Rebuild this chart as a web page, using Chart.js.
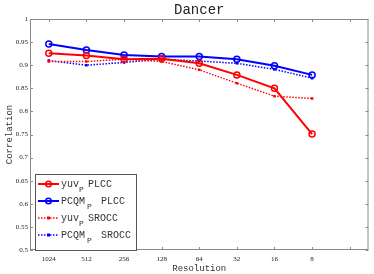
<!DOCTYPE html>
<html>
<head>
<meta charset="utf-8">
<script src="https://cdn.jsdelivr.net/npm/chart.js@4/dist/chart.umd.min.js"></script>
<style>
  html, body { margin: 0; padding: 0; background: #fff; }
  #wrap { width: 374px; height: 274px; }
</style>
</head>
<body>
<div id="wrap"><canvas id="c" width="374" height="274"></canvas></div>
<script>
const resolutions = ['1024', '512', '256', '128', '64', '32', '16', '8', ''];
const yuvPlcc   = [0.926, 0.921, 0.913, 0.914, 0.904, 0.879, 0.850, 0.751];
const pcqmPlcc  = [0.946, 0.933, 0.922, 0.919, 0.919, 0.913, 0.899, 0.879];
const yuvSrocc  = [0.908, 0.908, 0.913, 0.908, 0.890, 0.861, 0.833, 0.828];
const pcqmSrocc = [0.910, 0.900, 0.906, 0.913, 0.909, 0.904, 0.891, 0.872];
const yTicks = [0.5, 0.55, 0.6, 0.65, 0.7, 0.75, 0.8, 0.85, 0.9, 0.95, 1];

const serif = 'Liberation Serif';
const mono = 'Liberation Mono';

// matlab style: box round the axes, ticks pointing inward, title and legend drawn by hand
const matlabBox = {
    id: 'matlabBox',
    afterDraw(chart) {
        const { ctx, chartArea: a, scales } = chart;
        ctx.save();
        ctx.strokeStyle = '#8a8a8a';
        ctx.lineWidth = 1;
        ctx.strokeRect(a.left + 0.5, a.top + 0.5, a.right - a.left - 1, a.bottom - a.top - 1);
        ctx.beginPath();
        scales.x.ticks.forEach((t, i) => {
            const x = Math.round(scales.x.getPixelForTick(i)) + 0.5;
            ctx.moveTo(x, a.bottom); ctx.lineTo(x, a.bottom - 3);
            ctx.moveTo(x, a.top); ctx.lineTo(x, a.top + 3);
        });
        scales.y.ticks.forEach((t, i) => {
            const y = Math.round(scales.y.getPixelForTick(i)) + 0.5;
            ctx.moveTo(a.left, y); ctx.lineTo(a.left + 3, y);
            ctx.moveTo(a.right, y); ctx.lineTo(a.right - 3, y);
        });
        ctx.stroke();

        // title
        ctx.fillStyle = '#222';
        ctx.font = '14px ' + mono;
        ctx.textAlign = 'center';
        ctx.textBaseline = 'alphabetic';
        ctx.fillText('Dancer', (a.left + a.right) / 2, 14);

        // legend
        const lx = 35, ly = 174, lw = 101, lh = 76;
        ctx.fillStyle = '#fff';
        ctx.fillRect(lx, ly, lw, lh);
        ctx.strokeStyle = '#555';
        ctx.strokeRect(lx + 0.5, ly + 0.5, lw, lh);
        const rows = [
            { ds: 0, name: 'yuv', sub: 79, rest: 88, label: 'PLCC', y: 184 },
            { ds: 1, name: 'PCQM', sub: 87, rest: 101, label: 'PLCC', y: 201 },
            { ds: 2, name: 'yuv', sub: 79, rest: 88, label: 'SROCC', y: 218 },
            { ds: 3, name: 'PCQM', sub: 87, rest: 101, label: 'SROCC', y: 235 }
        ];
        rows.forEach(r => {
            const ds = chart.data.datasets[r.ds];
            ctx.strokeStyle = ds.borderColor;
            ctx.lineWidth = ds.borderWidth;
            ctx.setLineDash(ds.borderDash || []);
            ctx.beginPath();
            ctx.moveTo(38, r.y); ctx.lineTo(59, r.y);
            ctx.stroke();
            ctx.setLineDash([]);
            ctx.beginPath();
            if (ds.pointStyle === 'circle') {
                ctx.lineWidth = 1.5;
                ctx.arc(48.5, r.y, 2.8, 0, Math.PI * 2);
                ctx.stroke();
            } else {
                ctx.fillStyle = ds.borderColor;
                ctx.fillRect(47, r.y - 1.5, 3, 3);
            }
            ctx.fillStyle = '#333';
            ctx.textAlign = 'left';
            ctx.textBaseline = 'middle';
            ctx.font = '10px ' + mono;
            ctx.fillText(r.name, 61, r.y);
            ctx.fillText(r.label, r.rest, r.y);
            ctx.font = '8px ' + mono;
            ctx.fillText('P', r.sub, r.y + 6);
        });
        ctx.restore();
    }
};

new Chart(document.getElementById('c'), {
    type: 'line',
    data: {
        labels: resolutions,
        datasets: [
            { label: 'yuvP PLCC', data: yuvPlcc, borderColor: '#ff0000', backgroundColor: '#ff0000',
              borderWidth: 2, pointStyle: 'circle', pointRadius: 3, pointBorderWidth: 1.5,
              pointBackgroundColor: 'rgba(0,0,0,0)' },
            { label: 'PCQMP PLCC', data: pcqmPlcc, borderColor: '#0000ff', backgroundColor: '#0000ff',
              borderWidth: 2, pointStyle: 'circle', pointRadius: 3, pointBorderWidth: 1.5,
              pointBackgroundColor: 'rgba(0,0,0,0)' },
            { label: 'yuvP SROCC', data: yuvSrocc, borderColor: '#ff0000', backgroundColor: '#ff0000',
              borderWidth: 1.5, borderDash: [1.5, 1.5], pointStyle: 'rect', pointRadius: 1.8,
              pointBorderWidth: 0 },
            { label: 'PCQMP SROCC', data: pcqmSrocc, borderColor: '#0000ff', backgroundColor: '#0000ff',
              borderWidth: 1.5, borderDash: [1.5, 1.5], pointStyle: 'rect', pointRadius: 1.8,
              pointBorderWidth: 0 }
        ]
    },
    options: {
        responsive: false,
        animation: false,
        events: [],
        layout: { padding: { top: 19, right: 2, left: 0, bottom: 0 } },
        plugins: { legend: { display: false }, tooltip: { enabled: false } },
        elements: { line: { tension: 0 } },
        scales: {
            x: {
                offset: true,
                grid: { display: false, drawTicks: false, tickLength: 0 },
                border: { display: false },
                ticks: { color: '#222', font: { family: serif, size: 7 }, maxRotation: 0, padding: 5 },
                title: { display: true, text: 'Resolution', color: '#333',
                         font: { family: mono, size: 9 }, padding: { top: 1, bottom: 0 } },
                afterFit(s) { s.height = 24; }
            },
            y: {
                min: 0.5, max: 1,
                grid: { display: false, drawTicks: false, tickLength: 0 },
                border: { display: false },
                afterBuildTicks(s) { s.ticks = yTicks.map(v => ({ value: v })); },
                ticks: { color: '#222', font: { family: serif, size: 7 }, padding: 2,
                         callback: v => String(+v.toFixed(2)) },
                title: { display: true, text: 'Correlation', color: '#333',
                         font: { family: mono, size: 9 }, padding: { top: 4, bottom: 0 } },
                afterFit(s) { s.width = 30; }
            }
        }
    },
    plugins: [matlabBox]
});
</script>
</body>
</html>
